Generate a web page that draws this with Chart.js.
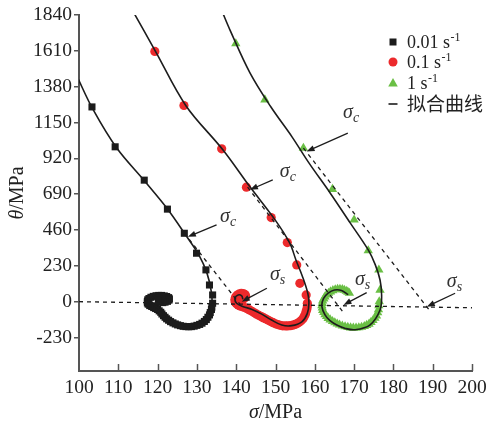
<!DOCTYPE html>
<html>
<head>
<meta charset="utf-8">
<script src="https://cdn.jsdelivr.net/npm/chart.js@4.4.1/dist/chart.umd.min.js"></script>
<style>
  html, body { margin: 0; padding: 0; background: #fff; }
</style>
</head>
<body>
<canvas id="chart" width="504" height="425"></canvas>

<script type="text/javascript">
    // sigma (MPa), theta (MPa) pairs
    const rate001Points = [
        [103.3,1250],[109.2,994],[116.6,780],[122.5,594],[126.8,439],[129.9,311],[132.3,204],[133.2,107],
        [134.0,43],[134.0,-10],[133.8,-35],[133.7,-50],[133.4,-70],[133.2,-85],[132.8,-100],[132.4,-115],
        [131.9,-127],[131.3,-138],[130.7,-146],[130.0,-152],[129.3,-157],[128.6,-160],[127.9,-161],[127.2,-160],
        [126.5,-158],[125.8,-154],[125.1,-149],[124.5,-143],[123.9,-136],[123.3,-128],[122.8,-119],[122.3,-110],
        [121.9,-100],[121.5,-90],[121.1,-79],[120.8,-68],[120.4,-59],[120.0,-50],[119.5,-44],[119.0,-38],
        [118.5,-31],[118.0,-25],[117.6,-16],[117.4,-8],[117.4,2],[117.5,12],[117.8,20],[118.3,28],
        [118.9,34],[119.6,38],[120.3,40],[121.0,40],[121.7,37],[122.3,33],[122.8,26],[123.0,18],
        [122.9,10],[122.5,2],[121.9,-3],[121.3,-6],[120.7,-3],[120.2,2]
    ];
    const rate01Points = [
        [119.3,1606],[126.7,1259],[136.3,981],[142.6,735],[148.9,540],[153.0,379],[155.4,236],[156.2,118],
        [157.8,43],[158.1,-10],[158.1,-28],[158.0,-45],[157.8,-62],[157.6,-80],[157.3,-95],[157.0,-110],
        [156.5,-122],[156.0,-132],[155.5,-140],[155.0,-146],[154.4,-151],[153.8,-154],[153.1,-156],[152.5,-156],
        [151.8,-155],[151.2,-152],[150.6,-147],[150.0,-142],[149.4,-135],[148.8,-128],[148.2,-120],[147.6,-112],
        [147.0,-104],[146.4,-96],[145.8,-88],[145.2,-80],[144.6,-71],[144.0,-62],[143.4,-53],[142.8,-45],
        [142.2,-38],[141.6,-33],[141.0,-28],[140.5,-22],[140.1,-14],[139.8,-5],[139.7,5],[139.7,15],
        [139.8,25],[140.0,35],[140.4,44],[140.8,50],[141.3,53],[141.8,52],[142.2,46],[142.4,38],
        [142.3,29],[142.0,20],[141.6,13],[141.2,8]
    ];
    const rate1Points = [
        [139.9,1656],[147.3,1296],[157.1,986],[164.5,722],[170.0,525],[173.6,328],[176.3,204],[176.6,75],
        [176.4,0],[176.3,-25],[176.2,-50],[176.0,-70],[175.7,-90],[175.3,-105],[174.8,-120],[174.3,-132],
        [173.8,-143],[173.2,-151],[172.6,-158],[171.9,-163],[171.2,-166],[170.5,-168],[169.8,-168],[169.1,-167],
        [168.4,-164],[167.7,-160],[167.0,-155],[166.3,-149],[165.7,-142],[165.1,-134],[164.5,-126],[163.9,-116],
        [163.4,-106],[163.0,-94],[162.6,-82],[162.3,-68],[162.0,-55],[161.9,-40],[161.8,-25],[161.9,-10],
        [162.0,5],[162.3,19],[162.6,32],[163.0,44],[163.5,55],[164.0,64],[164.6,72],[165.2,77],
        [165.8,80],[166.4,80],[167.0,78],[167.5,74],[168.0,68],[168.4,62],[168.8,55]
    ];

    // fitted curves
    const fit001 = [
        [99.5,1445],[103.6,1232],[109.6,986],[116.8,771],[122.7,589],[127.4,418],[130.5,300],[132.6,180],
        [133.7,60],[133.8,-30],[133.2,-90],[131.6,-132],[129.5,-152],[127.5,-155],[125.2,-140],[123.3,-112],
        [121.8,-80],[120.3,-45],[118.8,-15],[118.3,12],[119.3,35],[120.8,38],[121.6,15]
    ];
    const fit01 = [
        [113.6,1870],[119.5,1605],[127.2,1258],[136.6,975],[143.5,737],[149.9,525],[153.6,377],[155.2,268],
        [156.9,159],[158.2,56],[158.5,-8],[158.1,-75],[156.7,-129],[154.1,-154],[151.6,-150],[149.0,-118],
        [146.5,-80],[143.9,-48],[141.8,-32],[140.1,-10],[139.7,22],[140.5,43],[141.4,37],[141.7,15]
    ];
    const fit1 = [
        [136.3,1870],[138.4,1745],[143.5,1469],[148.8,1251],[154.2,1058],[158.5,891],[163.9,698],[169.0,506],
        [173.6,332],[175.4,236],[176.6,139],[177.0,43],[176.6,-53],[174.0,-150],[170.2,-180],[167.8,-172],
        [165.6,-150],[163.8,-120],[162.6,-85],[161.8,-30],[162.2,20],[163.4,55],[165.0,75],[166.8,72],
        [168.5,45]
    ];

    // dashed construction lines
    const baseLine = [[100,0],[200,-39]];
    const tangent001 = [[126.8,440],[141.0,-18]];
    const tangent01 = [[142.9,735],[167.1,-64]];
    const tangent1 = [[157.1,986],[189.1,-53]];

    const yTicks = [-230, 0, 230, 460, 690, 920, 1150, 1380, 1610, 1840];
    const legendNames = ['0.01 s', '0.1 s', '1 s'];
    const legendSup = '-1';
    const fitName = '拟合曲线';

    // sigma_c / sigma_s callouts: label spot, arrow start, arrow tip (data units)
    const callouts = [
        {sub: 'c', at: [135.9, 512], from: [135.0, 493], to: [127.7, 416]},
        {sub: 'c', at: [151.1, 801], from: [149.3, 782], to: [143.5, 718]},
        {sub: 'c', at: [167.2, 1180], from: [168.4, 1082], to: [157.9, 964]},
        {sub: 's', at: [148.6, 139], from: [147.8, 86], to: [141.4, 0]},
        {sub: 's', at: [170.2, 107], from: [173.2, 58], to: [167.3, -21]},
        {sub: 's', at: [193.6, 94], from: [195.7, 54], to: [188.5, -32]}
    ];

    const black = '#1c1c1c';
    const red = '#ec2a2c';
    const green = '#6abf45';
    const axisColor = '#555555';
    const serif = '"Liberation Serif", "Times New Roman", serif';

    function toXY(list) {
        return list.map(p => ({x: p[0], y: p[1]}));
    }

    function fitSet(list) {
        return {data: toXY(list), showLine: true, pointRadius: 0, borderColor: black,
                borderWidth: 1.6, tension: 0.35, order: 0};
    }

    function dashSet(list) {
        return {data: toXY(list), showLine: true, pointRadius: 0, borderColor: black,
                borderWidth: 1.3, borderDash: [4, 4], tension: 0, order: 1};
    }

    function drawArrow(ctx, x1, y1, x2, y2) {
        const ang = Math.atan2(y2 - y1, x2 - x1);
        const len = 8, half = 3;
        ctx.beginPath();
        ctx.moveTo(x1, y1);
        ctx.lineTo(x2 - Math.cos(ang) * len * 0.8, y2 - Math.sin(ang) * len * 0.8);
        ctx.stroke();
        ctx.beginPath();
        ctx.moveTo(x2, y2);
        ctx.lineTo(x2 - Math.cos(ang) * len - Math.sin(ang) * half, y2 - Math.sin(ang) * len + Math.cos(ang) * half);
        ctx.lineTo(x2 - Math.cos(ang) * len + Math.sin(ang) * half, y2 - Math.sin(ang) * len - Math.cos(ang) * half);
        ctx.closePath();
        ctx.fill();
    }

    const decor = {
        id: 'decor',
        afterDraw(chart) {
            const ctx = chart.ctx;
            const area = chart.chartArea;
            const xs = chart.scales.x, ys = chart.scales.y;
            ctx.save();

            // x ticks point inwards
            ctx.strokeStyle = axisColor;
            ctx.lineWidth = 1.5;
            xs.ticks.forEach(t => {
                if (t.value <= xs.min) return;
                const px = Math.round(xs.getPixelForValue(t.value)) + 0.5;
                ctx.beginPath();
                ctx.moveTo(px, area.bottom);
                ctx.lineTo(px, area.bottom - 7);
                ctx.stroke();
            });

            // axis titles
            ctx.fillStyle = '#222';
            ctx.textBaseline = 'alphabetic';
            ctx.textAlign = 'left';
            const f1 = 'italic 20px ' + serif, f2 = '20px ' + serif;
            ctx.font = f1; const wg = ctx.measureText('σ').width;
            ctx.font = f2; const wr = ctx.measureText('/MPa').width;
            let sx = (area.left + area.right) / 2 - (wg + wr) / 2;
            ctx.font = f1; ctx.fillText('σ', sx, 417.5);
            ctx.font = f2; ctx.fillText('/MPa', sx + wg, 417.5);

            ctx.save();
            ctx.translate(23, (area.top + area.bottom) / 2);
            ctx.rotate(-Math.PI / 2);
            ctx.font = f1; const wt = ctx.measureText('θ').width;
            sx = -(wt + wr) / 2;
            ctx.fillText('θ', sx, 0);
            ctx.font = f2; ctx.fillText('/MPa', sx + wt, 0);
            ctx.restore();

            // callouts
            ctx.strokeStyle = black;
            ctx.lineWidth = 1.3;
            callouts.forEach(c => {
                const tx = xs.getPixelForValue(c.at[0]), ty = ys.getPixelForValue(c.at[1]);
                ctx.fillStyle = '#333';
                ctx.font = 'italic 20px ' + serif;
                ctx.fillText('σ', tx, ty);
                const w = ctx.measureText('σ').width;
                ctx.font = 'italic 14px ' + serif;
                ctx.fillText(c.sub, tx + w, ty + 4);
                ctx.fillStyle = black;
                drawArrow(ctx, xs.getPixelForValue(c.from[0]), ys.getPixelForValue(c.from[1]),
                          xs.getPixelForValue(c.to[0]), ys.getPixelForValue(c.to[1]));
            });

            // legend
            const mx = 393, tx = 407;
            const rows = [42, 62, 83];
            ctx.fillStyle = black;
            ctx.fillRect(mx - 3.5, rows[0] - 3.5, 7, 7);
            ctx.fillStyle = red;
            ctx.beginPath(); ctx.arc(mx, rows[1], 4.5, 0, Math.PI * 2); ctx.fill();
            ctx.fillStyle = green;
            ctx.beginPath();
            ctx.moveTo(mx, rows[2] - 5); ctx.lineTo(mx + 4.8, rows[2] + 3.5); ctx.lineTo(mx - 4.8, rows[2] + 3.5);
            ctx.closePath(); ctx.fill();
            ctx.fillStyle = '#222';
            legendNames.forEach((name, i) => {
                ctx.font = '18px ' + serif;
                ctx.fillText(name, tx, rows[i] + 5.5);
                const w = ctx.measureText(name).width;
                ctx.font = '12px ' + serif;
                ctx.fillText(legendSup, tx + w + 0.5, rows[i] - 1.5);
            });
            ctx.strokeStyle = black;
            ctx.lineWidth = 1.6;
            ctx.beginPath(); ctx.moveTo(mx - 4.5, 104); ctx.lineTo(mx + 4.5, 104); ctx.stroke();
            ctx.font = '19px "Noto Sans CJK SC", sans-serif';
            ctx.fillText(fitName, tx, 111);

            ctx.restore();
        }
    };

    const chartObj = new Chart(document.getElementById('chart'), {
        type: 'scatter',
        data: {
            datasets: [
                fitSet(fit001), fitSet(fit01), fitSet(fit1),
                dashSet(baseLine), dashSet(tangent001), dashSet(tangent01), dashSet(tangent1),
                {data: toXY(rate001Points), pointStyle: 'rect', pointRadius: 5, backgroundColor: black,
                 borderWidth: 0, order: 2},
                {data: toXY(rate01Points), pointStyle: 'circle', pointRadius: 4.6, backgroundColor: red,
                 borderWidth: 0, order: 2},
                {data: toXY(rate1Points), pointStyle: 'triangle', pointRadius: 5.4, backgroundColor: green,
                 borderWidth: 0, order: 2}
            ]
        },
        options: {
            responsive: false,
            animation: false,
            layout: {padding: {top: 15, right: 32, bottom: 0, left: 0}},
            scales: {
                x: {
                    min: 100, max: 200,
                    afterFit: s => { s.height = 54; },
                    ticks: {stepSize: 10, padding: 5, color: '#222', font: {family: serif, size: 19.5}},
                    grid: {display: true, drawOnChartArea: false, drawTicks: false},
                    border: {display: true, color: axisColor, width: 2}
                },
                y: {
                    min: -445, max: 1840,
                    afterFit: s => { s.width = 79; },
                    afterBuildTicks: s => { s.ticks = yTicks.map(v => ({value: v})); },
                    ticks: {padding: 2, color: '#222', font: {family: serif, size: 19.5},
                            callback: v => String(v)},
                    grid: {display: true, drawOnChartArea: false, tickLength: 5, color: axisColor, lineWidth: 1.5},
                    border: {display: true, color: axisColor, width: 2}
                }
            },
            plugins: {
                legend: {display: false},
                tooltip: {enabled: false},
                title: {display: false}
            }
        },
        plugins: [decor]
    });
</script>
</body>
</html>
